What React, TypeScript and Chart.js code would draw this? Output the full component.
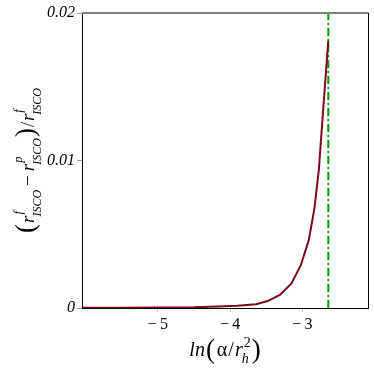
import React, { useEffect, useRef } from "react";
import { Chart, registerables } from "chart.js";

Chart.register(...registerables);

// ---- data ----
const xValues = [-6.05, -5.5, -5.0, -4.5, -4.17, -3.9, -3.64, -3.48, -3.31, -3.15, -3.02, -2.91, -2.83, -2.77, -2.71, -2.64];
const yValues = [0.00001, 0.00002, 0.00003, 0.00005, 0.0001, 0.00015, 0.00025, 0.00047, 0.00088, 0.00167, 0.0029, 0.0046, 0.0068, 0.0094, 0.0135, 0.0181];
const limitX = -2.64;
const xTicks = [-5, -4, -3];
const xTickLabels = ["\u2212\u20095", "\u2212\u20094", "\u2212\u20093"];
const yTicks = [0, 0.01, 0.02];
const yTickLabels = ["0", "0.01", "0.02"];
const xRange = [-6.05, -2.09];
const yRange = [0, 0.02];

const SERIF = "'Liberation Serif', 'Times New Roman', serif";

type Txt = { t: string; size: number; italic?: boolean; dy?: number; padL?: number; padR?: number };
type Item =
  | { kind: "text"; v: Txt }
  | { kind: "script"; sup: Txt; sub: Txt; padR?: number };

function fontOf(v: Txt) {
  return `${v.italic ? "italic " : ""}${v.size}px ${SERIF}`;
}

function runItems(ctx: CanvasRenderingContext2D, items: Item[], draw: boolean): number {
  let x = 0;
  for (const it of items) {
    if (it.kind === "text") {
      const v = it.v;
      ctx.font = fontOf(v);
      x += v.padL || 0;
      if (draw) ctx.fillText(v.t, x, v.dy || 0);
      x += ctx.measureText(v.t).width + (v.padR || 0);
    } else {
      ctx.font = fontOf(it.sup);
      const w1 = ctx.measureText(it.sup.t).width + (it.sup.padL || 0);
      if (draw) ctx.fillText(it.sup.t, x + (it.sup.padL || 0), it.sup.dy || 0);
      ctx.font = fontOf(it.sub);
      const w2 = ctx.measureText(it.sub.t).width + (it.sub.padL || 0);
      if (draw) ctx.fillText(it.sub.t, x + (it.sub.padL || 0), it.sub.dy || 0);
      x += Math.max(w1, w2) + (it.padR || 0);
    }
  }
  return x;
}

const rGroup = (sup: string): Item[] => [
  { kind: "text", v: { t: "r", size: 19, italic: true } },
  {
    kind: "script",
    sup: { t: sup, size: 12.5, italic: true, dy: -12, padL: 1 },
    sub: { t: "ISCO", size: 12, italic: true, dy: 7, padL: -1 },
  },
];

const yTitleItems: Item[] = [
  { kind: "text", v: { t: "(", size: 27, dy: 0, padR: 1 } },
  ...rGroup("f"),
  { kind: "text", v: { t: "\u2212", size: 19, padL: 4, padR: 4 } },
  ...rGroup("p"),
  { kind: "text", v: { t: ")", size: 27, dy: 0, padL: 1, padR: 1 } },
  { kind: "text", v: { t: "/", size: 18, padR: 1 } },
  ...rGroup("f"),
];

const xTitleItems: Item[] = [
  { kind: "text", v: { t: "ln", size: 20, italic: true } },
  { kind: "text", v: { t: "(", size: 27, dy: 2, padL: 1, padR: 2 } },
  { kind: "text", v: { t: "\u03b1", size: 20, padR: 1 } },
  { kind: "text", v: { t: "/", size: 20, padR: 1 } },
  { kind: "text", v: { t: "r", size: 20, italic: true } },
  {
    kind: "script",
    sup: { t: "2", size: 14, dy: -9, padL: 1 },
    sub: { t: "h", size: 14, italic: true, dy: 7, padL: -1 },
  },
  { kind: "text", v: { t: ")", size: 27, dy: 2, padL: 1 } },
];

const decorPlugin = {
  id: "decor",
  afterDraw(chart: any) {
    const ctx: CanvasRenderingContext2D = chart.ctx;
    const a = chart.chartArea;
    ctx.save();
    ctx.strokeStyle = "#808080";
    ctx.lineWidth = 2;
    ctx.beginPath();
    ctx.moveTo(a.left, a.top);
    ctx.lineTo(a.right + 0.5, a.top);
    ctx.stroke();
    ctx.strokeStyle = "#000";
    ctx.lineWidth = 1;
    ctx.beginPath();
    ctx.moveTo(a.right + 0.5, a.top);
    ctx.lineTo(a.right + 0.5, a.bottom);
    ctx.stroke();

    ctx.fillStyle = "#000";
    ctx.textBaseline = "alphabetic";
    ctx.textAlign = "left";
    const wy = runItems(ctx, yTitleItems, false);
    ctx.save();
    ctx.translate(34, (a.top + a.bottom) / 2 + wy / 2);
    ctx.rotate(-Math.PI / 2);
    runItems(ctx, yTitleItems, true);
    ctx.restore();
    const wx = runItems(ctx, xTitleItems, false);
    ctx.save();
    ctx.translate((a.left + a.right) / 2 - wx / 2, 356);
    runItems(ctx, xTitleItems, true);
    ctx.restore();
    ctx.restore();
  },
};

export default function App() {
  const ref = useRef<HTMLCanvasElement | null>(null);
  useEffect(() => {
    document.body.style.margin = "0";
    const canvas = ref.current!;
    let chart: any = null;
    let cancelled = false;
    const build = () => {
      if (cancelled) return;
      chart = new Chart(canvas, {
        type: "line",
        data: {
          datasets: [
            {
              data: xValues.map((x, i) => ({ x, y: yValues[i] })),
              borderColor: "#7d0a1c",
              borderWidth: 2,
              pointRadius: 0,
              tension: 0,
              fill: false,
            },
            {
              data: [
                { x: limitX, y: yRange[0] },
                { x: limitX, y: yRange[1] },
              ],
              borderColor: "#0a9a0a",
              borderWidth: 2,
              borderDash: [8, 3, 2, 3],
              pointRadius: 0,
              fill: false,
            },
          ],
        },
        options: {
          animation: false,
          responsive: false,
          maintainAspectRatio: false,
          layout: { padding: { top: 13, right: 6, left: 0, bottom: 0 } },
          plugins: { legend: { display: false }, tooltip: { enabled: false } },
          scales: {
            x: {
              type: "linear",
              min: xRange[0],
              max: xRange[1],
              afterFit: (s: any) => {
                s.height = 66;
              },
              afterBuildTicks: (s: any) => {
                s.ticks = xTicks.map((v) => ({ value: v }));
              },
              ticks: {
                autoSkip: false,
                maxRotation: 0,
                padding: 3,
                color: "#000",
                font: { family: SERIF, size: 16 },
                callback: (v: any) => {
                  const i = xTicks.indexOf(Number(v));
                  return i >= 0 ? xTickLabels[i] : "";
                },
              },
              grid: { drawOnChartArea: false, tickLength: 4, color: "#c8c8c8" },
              border: { display: true, color: "#000", width: 1 },
            },
            y: {
              type: "linear",
              min: yRange[0],
              max: yRange[1],
              afterFit: (s: any) => {
                s.width = 82;
              },
              afterBuildTicks: (s: any) => {
                s.ticks = yTicks.map((v) => ({ value: v }));
              },
              ticks: {
                autoSkip: false,
                padding: 2,
                color: "#000",
                font: { family: SERIF, size: 16, style: "italic" },
                callback: (v: any) => {
                  const i = yTicks.findIndex((t) => Math.abs(t - Number(v)) < 1e-9);
                  return i >= 0 ? yTickLabels[i] : "";
                },
              },
              grid: { drawOnChartArea: false, tickLength: 5, color: "#a0a0a0" },
              border: { display: true, color: "#000", width: 1 },
            },
          },
        },
        plugins: [decorPlugin],
      } as any);
    };
    const fonts: any = (document as any).fonts;
    if (fonts && fonts.load) {
      Promise.all([
        fonts.load(`16px 'Liberation Serif'`),
        fonts.load(`italic 16px 'Liberation Serif'`),
      ])
        .catch(() => null)
        .then(build);
    } else {
      build();
    }
    return () => {
      cancelled = true;
      if (chart) chart.destroy();
    };
  }, []);
  return (
    <div style={{ position: "fixed", left: 0, top: 0, width: 374, height: 374, background: "#fff" }}>
      <canvas ref={ref} width={374} height={374} style={{ display: "block" }} />
    </div>
  );
}
